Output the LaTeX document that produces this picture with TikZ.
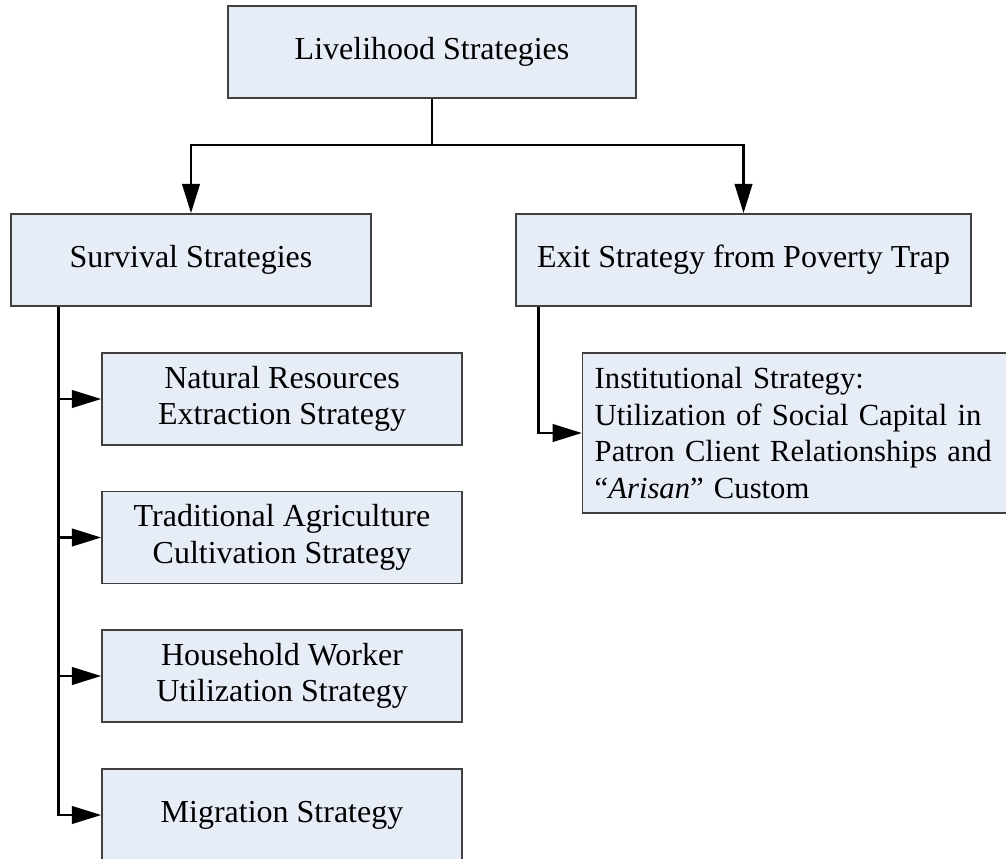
\documentclass[tikz,border=0pt]{standalone}
\usepackage{fontspec}
\setmainfont{Liberation Serif}
\usetikzlibrary{arrows.meta}
\definecolor{boxfill}{RGB}{230,237,247}
\definecolor{boxline}{RGB}{64,64,64}

\begin{document}
\begin{tikzpicture}[x=0.75pt, y=-0.75pt,
  stratbox/.style={draw=boxline, line width=1.1pt, fill=boxfill,
    minimum width=270pt, minimum height=69pt, inner sep=0pt,
    align=center, font=\fontsize{24}{27.5}\selectfont},
  link/.style={line width=2.2pt},
  arrowlink/.style={link, -{Triangle[length=22pt,width=13pt]}}]
  \useasboundingbox (0,0) rectangle (1006,858);
  % levels one and two
  \node[stratbox, minimum width=306pt] (liv) at (432,52) {Livelihood Strategies};
  \node[stratbox] (surv) at (191,260) {Survival Strategies};
  \node[stratbox, minimum width=341pt] (exit) at (743.5,260) {Exit Strategy from Poverty Trap};
  % survival branch
  \node[stratbox] (natural) at (282,399) {Natural Resources\\Extraction Strategy};
  \node[stratbox] (agri) at (282,537.5) {Traditional Agriculture\\Cultivation Strategy};
  \node[stratbox] (worker) at (282,676) {Household Worker\\Utilization Strategy};
  \node[stratbox] (migr) at (282,815) {Migration Strategy};
  % exit branch
  \node[stratbox, anchor=west, text width=340pt, align=left, inner xsep=9pt,
    minimum height=120pt, font=\fontsize{23}{27.5}\selectfont] (inst) at (582,433)
    {Institutional Strategy:\\Utilization of Social Capital in\\Patron Client Relationships and\\“\textit{Arisan}” Custom};

  \coordinate (split) at (432,145);
  \draw[link] (liv.south) -- (split);
  \draw[arrowlink] (split) -| (surv);
  \draw[arrowlink] (split) -| (exit);
  \foreach \n in {natural,agri,worker,migr}
    \draw[arrowlink] ([xshift=36pt]surv.south west) |- (\n);
  \draw[arrowlink] ([xshift=17.25pt]exit.south west) |- (inst);
\end{tikzpicture}
\end{document}
